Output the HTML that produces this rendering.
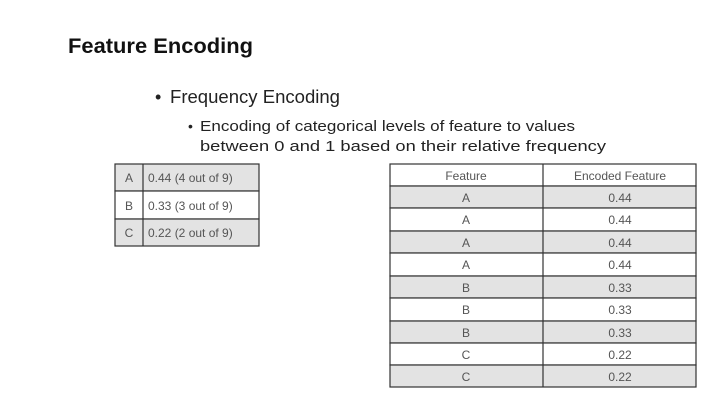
<!DOCTYPE html>
<html><head><meta charset="utf-8"><style>
html,body{margin:0;padding:0;background:#fff;}
svg{display:block;}
</style></head><body>
<svg width="709" height="410" xmlns="http://www.w3.org/2000/svg" font-family="Liberation Sans, sans-serif">
<rect width="709" height="410" fill="#fff"/>
<text x="68" y="53" font-size="21" font-weight="bold" fill="#111" textLength="185" lengthAdjust="spacingAndGlyphs">Feature Encoding</text>
<text x="155" y="103" font-size="18" fill="#222">•</text>
<text x="170" y="103" font-size="18" fill="#222" textLength="170" lengthAdjust="spacingAndGlyphs">Frequency Encoding</text>
<text x="188" y="131" font-size="14" fill="#222">•</text>
<text x="200" y="131" font-size="15" fill="#222" textLength="375" lengthAdjust="spacingAndGlyphs">Encoding of categorical levels of feature to values</text>
<text x="200" y="151" font-size="15" fill="#222" textLength="406" lengthAdjust="spacingAndGlyphs">between 0 and 1 based on their relative frequency</text>

<g stroke="#333" stroke-width="1.2">
<rect x="115" y="164" width="144" height="27" fill="#e3e3e3"/>
<rect x="115" y="191" width="144" height="28" fill="#fff"/>
<rect x="115" y="219" width="144" height="27" fill="#e3e3e3"/>
<line x1="143" y1="164" x2="143" y2="246"/>
</g>
<g font-size="12" fill="#555">
<text x="129" y="182" text-anchor="middle">A</text>
<text x="129" y="210" text-anchor="middle">B</text>
<text x="129" y="237" text-anchor="middle">C</text>
<text x="148" y="182">0.44 (4 out of 9)</text>
<text x="148" y="210">0.33 (3 out of 9)</text>
<text x="148" y="237">0.22 (2 out of 9)</text>
</g>

<g stroke="#333" stroke-width="1.2">
<rect x="390" y="164" width="306" height="22" fill="#fff"/>
<rect x="390" y="186" width="306" height="22" fill="#e3e3e3"/>
<rect x="390" y="208" width="306" height="23" fill="#fff"/>
<rect x="390" y="231" width="306" height="22" fill="#e3e3e3"/>
<rect x="390" y="253" width="306" height="23" fill="#fff"/>
<rect x="390" y="276" width="306" height="22" fill="#e3e3e3"/>
<rect x="390" y="298" width="306" height="23" fill="#fff"/>
<rect x="390" y="321" width="306" height="22" fill="#e3e3e3"/>
<rect x="390" y="343" width="306" height="22" fill="#fff"/>
<rect x="390" y="365" width="306" height="22" fill="#e3e3e3"/>
<line x1="543" y1="164" x2="543" y2="387"/>
</g>
<g font-size="12" fill="#555" text-anchor="middle">
<text x="466" y="180">Feature</text><text x="620" y="180">Encoded Feature</text>
<text x="466" y="202">A</text><text x="620" y="202">0.44</text>
<text x="466" y="224">A</text><text x="620" y="224">0.44</text>
<text x="466" y="247">A</text><text x="620" y="247">0.44</text>
<text x="466" y="269">A</text><text x="620" y="269">0.44</text>
<text x="466" y="292">B</text><text x="620" y="292">0.33</text>
<text x="466" y="314">B</text><text x="620" y="314">0.33</text>
<text x="466" y="337">B</text><text x="620" y="337">0.33</text>
<text x="466" y="359">C</text><text x="620" y="359">0.22</text>
<text x="466" y="381">C</text><text x="620" y="381">0.22</text>
</g>
</svg>
</body></html>
